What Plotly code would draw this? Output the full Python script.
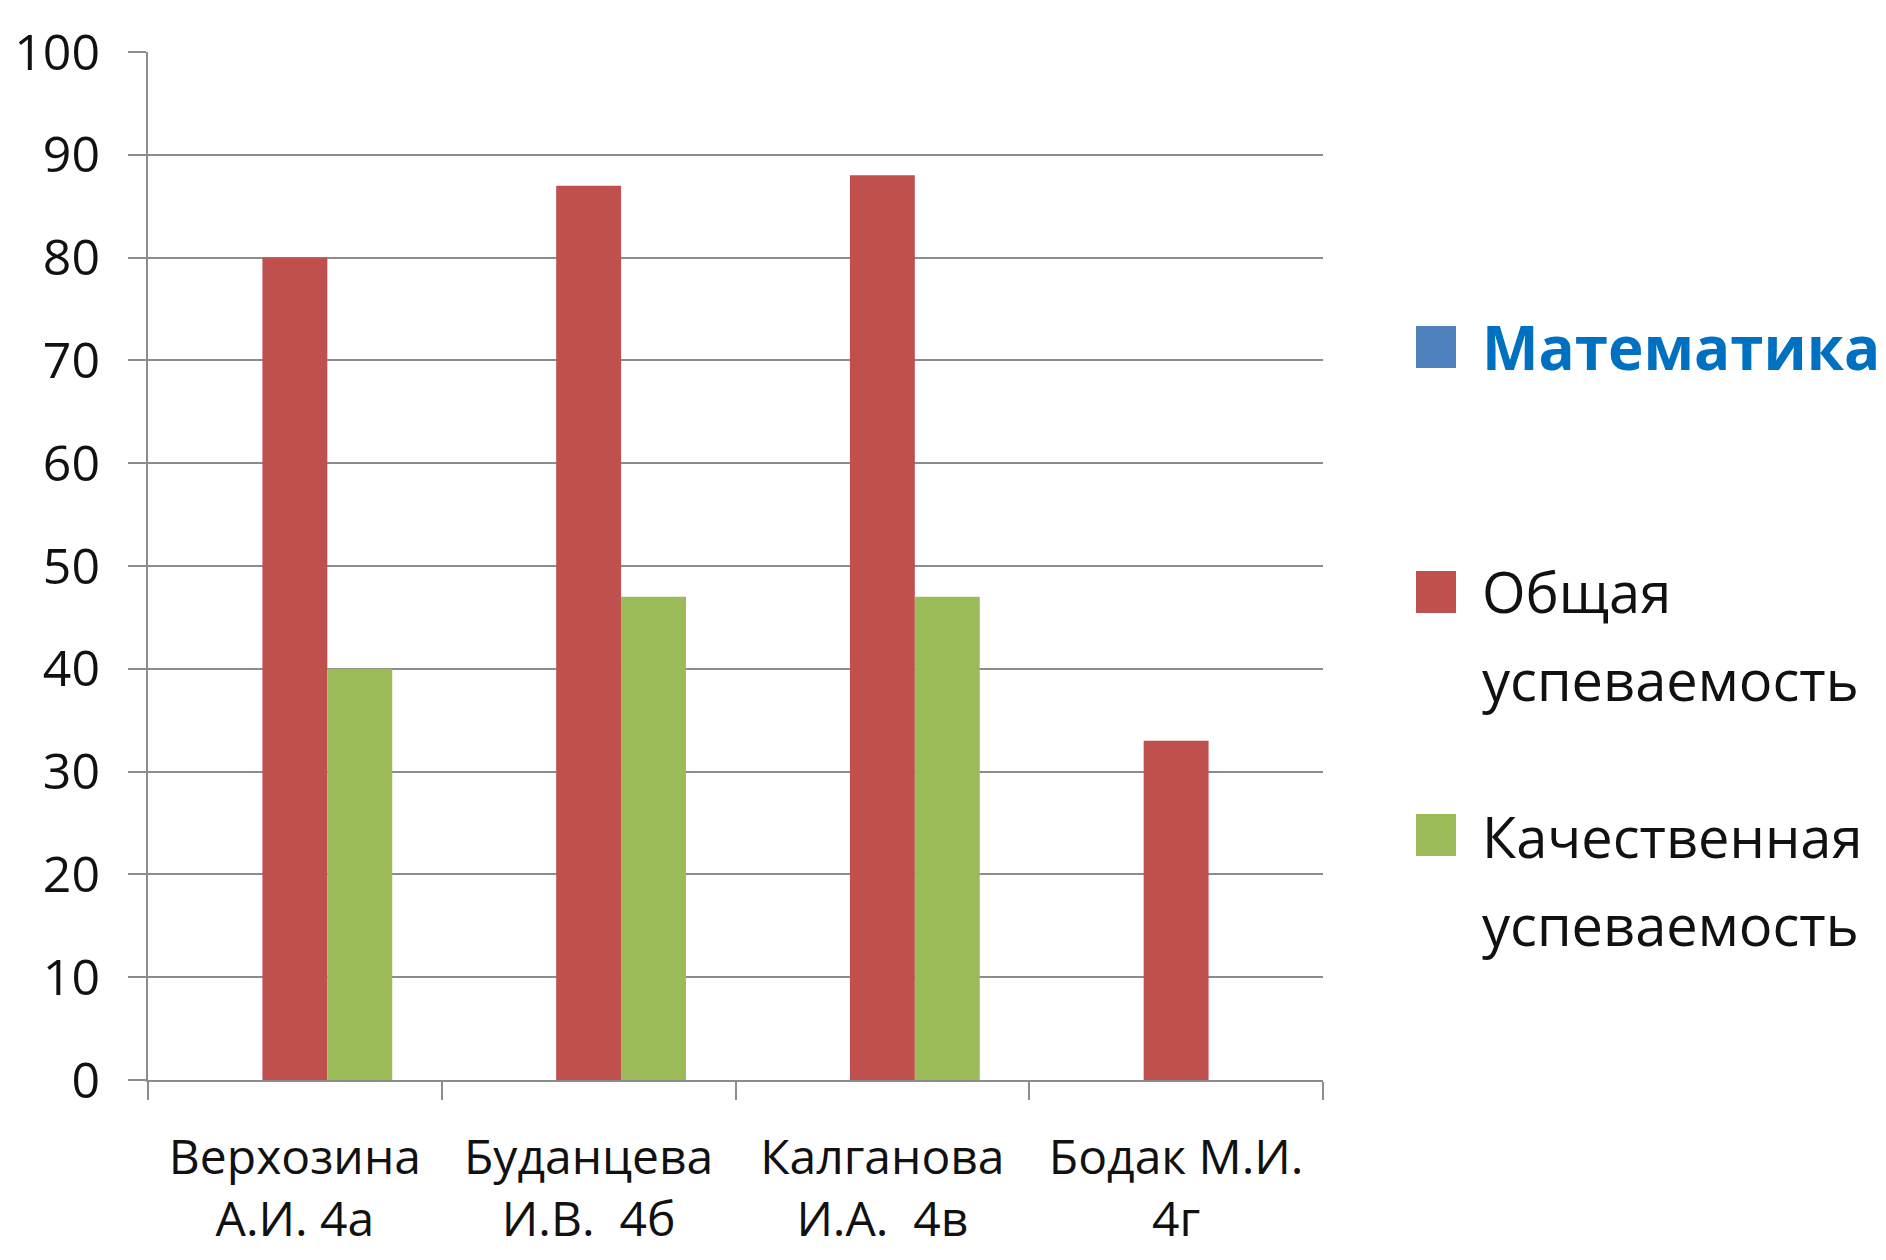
import plotly.graph_objects as go

# --- data ---------------------------------------------------------------
teachers = [
    "Верхозина<br>А.И. 4а",
    "Буданцева<br>И.В.  4б",
    "Калганова<br>И.А.  4в",
    "Бодак М.И.<br>4г",
]
subject_name = "Математика"
overall_name = "Общая успеваемость"
quality_name = "Качественная успеваемость"

subject_values = [None, None, None, None]
overall_values = [80, 87, 88, 33]
quality_values = [40, 47, 47, None]

y_ticks = [0, 10, 20, 30, 40, 50, 60, 70, 80, 90, 100]

# --- styling ------------------------------------------------------------
BLUE = "#4F81BD"
RED = "#C0504D"
GREEN = "#9BBB59"
TITLE_BLUE = "#0070C0"
GRID = "#8C8C8C"
FONT = "Open Sans, Noto Sans, DejaVu Sans, sans-serif"

W, H = 1886, 1260
PLOT_L, PLOT_R, PLOT_T, PLOT_B = 148, 1323, 52, 1080


def px_x(x):
    return (x - PLOT_L) / (PLOT_R - PLOT_L)


def px_y(y):
    return (PLOT_B - y) / (PLOT_B - PLOT_T)


fig = go.Figure()
for name, vals, col in [
    (subject_name, subject_values, BLUE),
    (overall_name, overall_values, RED),
    (quality_name, quality_values, GREEN),
]:
    fig.add_trace(go.Bar(
        x=teachers, y=vals, name=name, marker_color=col,
        marker_line_width=0, showlegend=False,
    ))

fig.update_layout(
    width=W, height=H,
    margin=dict(l=PLOT_L, r=W - PLOT_R, t=PLOT_T, b=H - PLOT_B, pad=0,
                autoexpand=False),
    paper_bgcolor="white", plot_bgcolor="white",
    barmode="group", bargap=0.337, bargroupgap=0,
    font=dict(family=FONT, color="#111111"),
)

fig.update_yaxes(
    range=[0, 100], tickvals=y_ticks,
    showgrid=True, gridcolor=GRID, gridwidth=2,
    zeroline=False, automargin=False,
    showline=True, linecolor=GRID, linewidth=2,
    ticks="outside", ticklen=18, tickwidth=2, tickcolor=GRID,
    ticklabelstandoff=18,
    tickfont=dict(size=50, family=FONT, color="#111111"),
)
fig.update_xaxes(
    showgrid=False, automargin=False,
    showline=True, linecolor=GRID, linewidth=2,
    ticks="outside", ticklen=18, tickwidth=2, tickcolor=GRID,
    tickson="boundaries",
    ticklabelstandoff=34,
    tickfont=dict(size=48, family=FONT, color="#111111"),
)

# --- legend, drawn as squares and text lines on the right ----------------
legend_rows = [
    # (colour, [(line text, cap-centre y)], bold, text colour, size, square centre y)
    (BLUE, [(subject_name, 347)], True, TITLE_BLUE, 60, 347),
    (RED, [("Общая", 591), ("успеваемость", 679)], False, "#111111", 56, 592),
    (GREEN, [("Качественная", 836), ("успеваемость", 924)], False, "#111111", 56, 835),
]
SQ_L, SQ_R, SQ_H = 1416, 1456, 42
TEXT_L = 1480
for col, lines, bold, tcol, size, sq_c in legend_rows:
    fig.add_shape(
        type="rect", xref="paper", yref="paper",
        x0=px_x(SQ_L), x1=px_x(SQ_R),
        y0=px_y(sq_c + SQ_H / 2), y1=px_y(sq_c - SQ_H / 2),
        fillcolor=col, line_width=0,
    )
    for text, cy in lines:
        fig.add_annotation(
            xref="paper", yref="paper",
            x=px_x(TEXT_L), y=px_y(cy),
            xanchor="left", yanchor="middle",
            text=f"<b>{text}</b>" if bold else text,
            showarrow=False,
            font=dict(family=FONT, size=size, color=tcol),
        )

fig.write_html("out.html")
